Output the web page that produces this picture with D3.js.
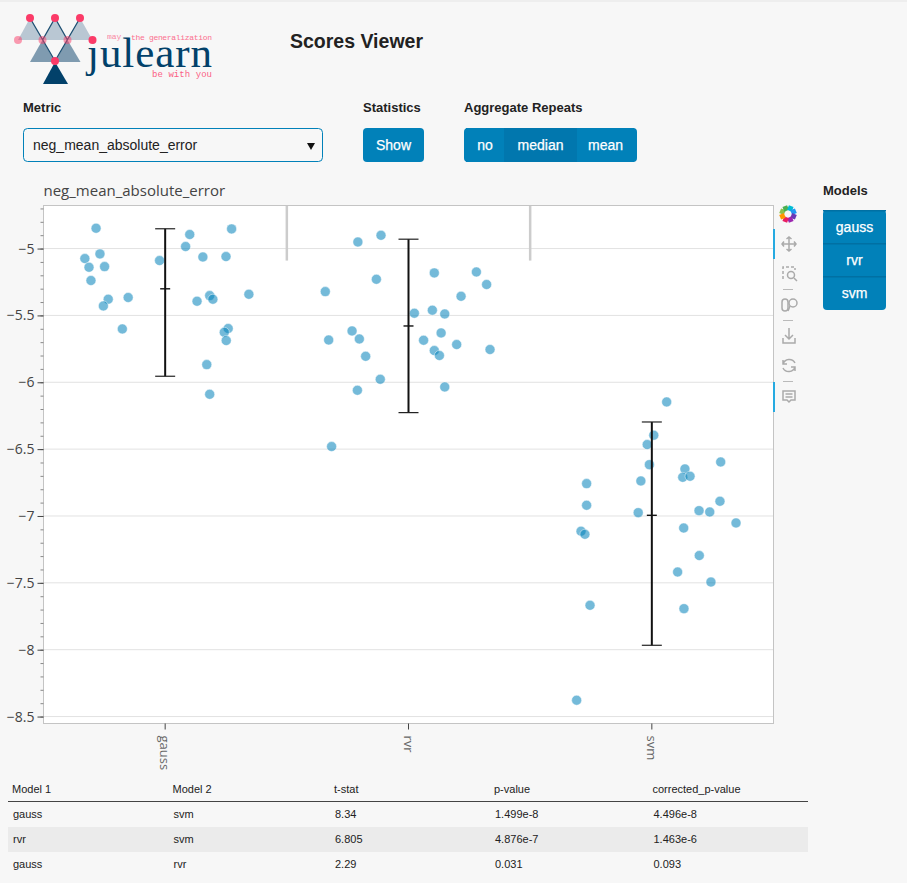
<html>
<head>
<meta charset="utf-8" />
<title>Scores Viewer</title>
<script src="https://cdn.jsdelivr.net/npm/d3@7/dist/d3.min.js"></script>
<style>
html, body { margin:0; padding:0; background:#f7f7f7; }
svg { display:block; }
.ui { font-family:"Liberation Sans", Arial, sans-serif; }
.tick text { font-family:"Open Sans", sans-serif; }
</style>
</head>
<body>
<svg id="page" width="907" height="883"></svg>
<script>
const models = ['gauss', 'rvr', 'svm'];
const yTicks = [-5, -5.5, -6, -6.5, -7, -7.5, -8, -8.5];

// offset from the category centre, as a share of the band
const gaussJitter = [-0.284,-0.268,-0.330,-0.313,-0.249,-0.305,-0.234,-0.254,-0.152,-0.176,-0.023,0.101,0.084,0.155,0.250,0.273,0.183,0.196,0.131,0.344,0.259,0.243,0.251,0.171,0.183];
const gaussScores = [-4.848,-5.040,-5.075,-5.140,-5.135,-5.239,-5.379,-5.429,-5.366,-5.601,-5.090,-4.895,-4.985,-5.063,-5.060,-4.853,-5.352,-5.379,-5.394,-5.342,-5.598,-5.626,-5.688,-5.868,-6.090];
const rvrJitter = [-0.208,-0.113,-0.132,-0.342,0.106,0.279,0.321,0.216,0.024,0.098,0.149,0.134,-0.232,-0.202,-0.328,0.062,0.198,0.106,0.127,0.335,-0.176,-0.116,-0.210,0.149,-0.316];
const rvrScores = [-4.951,-4.901,-5.230,-5.322,-5.182,-5.175,-5.269,-5.357,-5.484,-5.461,-5.489,-5.631,-5.616,-5.676,-5.684,-5.686,-5.718,-5.763,-5.800,-5.755,-5.806,-5.978,-6.060,-6.035,-6.481];
const svmJitter = [0.061,0.008,-0.019,-0.010,0.283,0.136,0.127,0.157,-0.045,-0.268,-0.268,0.280,0.194,0.238,-0.056,0.346,0.131,-0.291,-0.275,0.195,0.106,0.243,-0.254,0.132,-0.309];
const svmScores = [-6.147,-6.396,-6.466,-6.616,-6.596,-6.648,-6.711,-6.703,-6.738,-6.758,-6.920,-6.890,-6.960,-6.970,-6.975,-7.052,-7.090,-7.114,-7.137,-7.296,-7.419,-7.494,-7.668,-7.693,-8.378];

const errTop = [-4.852, -4.930, -6.297];
const errMean = [-5.301, -5.579, -6.995];
const errBottom = [-5.955, -6.227, -7.967];

const tableHead = ['Model 1', 'Model 2', 't-stat', 'p-value', 'corrected_p-value'];
const tableRows = [
	['gauss', 'svm', '8.34', '1.499e-8', '4.496e-8'],
	['rvr', 'svm', '6.805', '4.876e-7', '1.463e-6'],
	['gauss', 'rvr', '2.29', '0.031', '0.093']
];

const svg = d3.select('#page');
const blue = '#0181b9';

// top edge of the window
svg.append('rect').attr('width', 907).attr('height', 2).attr('fill', '#eeeeee');

// logo
const logo = svg.append('g');
const tri = (pts, fill) => logo.append('polygon').attr('points', pts).attr('fill', fill);
tri('18,40 30,18 42.5,40', '#b9c7d3');
tri('42.5,40 55,18 67.5,40', '#b9c7d3');
tri('67.5,40 80,18 92.5,40', '#b9c7d3');
tri('30,62 42.5,40 55,62', '#7f9bb0');
tri('55,62 67.5,40 80.5,62', '#7f9bb0');
tri('43,84 55,62 68,84', '#02416a');
logo.append('path').attr('d', 'M30,18 L55,61 L80,18 M42.5,40 L55,18 L67.5,40')
	.attr('fill', 'none').attr('stroke', '#1d4f72').attr('stroke-width', 1.3);
logo.append('text').text('julearn').attr('x', 87).attr('y', 66.5)
	.style('font-family', '"Liberation Serif", serif').style('font-size', '43px').attr('fill', '#02416a')
	.attr('textLength', 125);
[[30,18,1],[55,18,1],[80,18,1],[18,40,.5],[42.5,40,.5],[67.5,40,.5],[92.5,40,1],[55,61,1]].forEach(d => {
	logo.append('circle').attr('cx', d[0]).attr('cy', d[1]).attr('r', 4).attr('fill', '#fb3b68').attr('opacity', d[2]);
});
logo.append('text').text('may').attr('x', 107).attr('y', 39)
	.style('font-family', '"Liberation Mono", monospace').style('font-size', '8px').attr('fill', '#fb6f8f').attr('opacity', .8);
logo.append('text').text('the generalization').attr('x', 131).attr('y', 40)
	.style('font-family', '"Liberation Mono", monospace').style('font-size', '8px').attr('fill', '#fb6f8f').attr('textLength', 81);
logo.append('text').text('be with you').attr('x', 152).attr('y', 77)
	.style('font-family', '"Liberation Mono", monospace').style('font-size', '9px').attr('fill', '#fb5f85').attr('textLength', 60);

// header and widgets
const ui = svg.append('g').attr('class', 'ui');
const label = (t, px, py, size) => ui.append('text').text(t).attr('x', px).attr('y', py)
	.style('font-size', size + 'px').style('font-weight', 'bold').attr('fill', '#222');
label('Scores Viewer', 290, 48, 19.5);
label('Metric', 23, 112, 13);
label('Statistics', 363, 112, 13);
label('Aggregate Repeats', 464, 112, 13);
label('Models', 823, 195, 13);

const whiteText = (t, px, py) => ui.append('text').text(t).attr('x', px).attr('y', py).attr('text-anchor', 'middle')
	.style('font-size', '14px').attr('fill', '#fff').attr('stroke', '#fff').attr('stroke-width', 0.25);

ui.append('rect').attr('x', 23.5).attr('y', 128.5).attr('width', 299).attr('height', 33).attr('rx', 4)
	.attr('fill', '#f7f7f7').attr('stroke', blue);
ui.append('text').text('neg_mean_absolute_error').attr('x', 33).attr('y', 150)
	.style('font-size', '14px').attr('fill', '#222');
ui.append('path').attr('d', 'M307,143 L315,143 L311,150 Z').attr('fill', '#111');

const button = (t, px, py, w, h, fill) => {
	ui.append('rect').attr('x', px).attr('y', py).attr('width', w).attr('height', h).attr('fill', fill);
	whiteText(t, px + w / 2, py + h / 2 + 4.5);
};
ui.append('rect').attr('x', 363).attr('y', 128).attr('width', 61).attr('height', 34).attr('rx', 4).attr('fill', blue);
whiteText('Show', 393.5, 149.5);
ui.append('rect').attr('x', 464).attr('y', 128).attr('width', 173).attr('height', 34).attr('rx', 4).attr('fill', blue);
button('no', 466, 128, 38, 34, '#0181b9');
button('median', 504, 128, 73, 34, '#0177ae');
button('mean', 577, 128, 57, 34, '#0181b9');

ui.append('rect').attr('x', 823).attr('y', 210).attr('width', 63).attr('height', 100).attr('rx', 4).attr('fill', blue);
models.forEach((m, i) => {
	const btnTop = 210 + i * 33;
	ui.append('rect').attr('x', 823).attr('y', btnTop).attr('width', 63).attr('height', 1.5).attr('fill', '#0170a3');
	whiteText(m, 854.5, btnTop + 22);
});

// plot
const plotLeft = 43.5, plotRight = 773.5, plotTop = 205.5, plotBottom = 723.5;
const x = d3.scaleBand().domain(models).range([plotLeft, plotRight]);
const y = d3.scaleLinear().domain([-4.678, -8.552]).range([plotTop, plotBottom]);
const jitter = d3.scaleLinear().domain([0, 1]).range([0, x.bandwidth()]);
const centre = m => x(m) + x.bandwidth() / 2;

const plot = svg.append('g');
plot.append('rect').attr('x', plotLeft).attr('y', plotTop).attr('width', plotRight - plotLeft).attr('height', plotBottom - plotTop).attr('fill', '#fff');

plot.selectAll('line.grid').data(yTicks).enter().append('line').attr('class', 'grid')
	.attr('x1', plotLeft).attr('x2', plotRight).attr('y1', d => y(d)).attr('y2', d => y(d))
	.attr('stroke', '#e2e2e2');

plot.selectAll('line.sep').data(models.slice(1)).enter().append('line').attr('class', 'sep')
	.attr('x1', d => x(d)).attr('x2', d => x(d)).attr('y1', plotTop).attr('y2', y(-5.09))
	.attr('stroke', '#cccccc').attr('stroke-width', 2.5);

plot.append('rect').attr('x', plotLeft).attr('y', plotTop).attr('width', plotRight - plotLeft).attr('height', plotBottom - plotTop)
	.attr('fill', 'none').attr('stroke', '#c4c4c4');

const points = [];
[gaussJitter, rvrJitter, svmJitter].forEach((jit, i) => {
	const scores = [gaussScores, rvrScores, svmScores][i];
	jit.forEach((j, k) => points.push({ model: models[i], j: j, score: scores[k] }));
});
plot.selectAll('circle').data(points).enter().append('circle')
	.attr('cx', d => centre(d.model) + jitter(d.j))
	.attr('cy', d => y(d.score))
	.attr('r', 5)
	.attr('fill', '#0181b9').attr('fill-opacity', 0.55)
	.attr('stroke', '#fff').attr('stroke-opacity', 0.6).attr('stroke-width', 0.8);

// error bars
const bars = plot.selectAll('g.err').data(models).enter().append('g').attr('class', 'err');
bars.append('line').attr('x1', d => centre(d)).attr('x2', d => centre(d))
	.attr('y1', (d, i) => y(errTop[i])).attr('y2', (d, i) => y(errBottom[i]))
	.attr('stroke', '#111').attr('stroke-width', 2);
[errTop, errBottom].forEach(vals => {
	bars.append('line').attr('x1', d => centre(d) - 10).attr('x2', d => centre(d) + 10)
		.attr('y1', (d, i) => y(vals[i])).attr('y2', (d, i) => y(vals[i]))
		.attr('stroke', '#222').attr('stroke-width', 1.2);
});
bars.append('line').attr('x1', d => centre(d) - 5).attr('x2', d => centre(d) + 5)
	.attr('y1', (d, i) => y(errMean[i])).attr('y2', (d, i) => y(errMean[i]))
	.attr('stroke', '#111').attr('stroke-width', 1.4);

// axes
const yMinor = d3.axisLeft(y).ticks(38).tickFormat('').tickSize(3);
const yMinorG = svg.append('g').attr('transform', 'translate(' + plotLeft + ',0)').call(yMinor);
yMinorG.select('.domain').remove();
yMinorG.selectAll('line').attr('stroke', '#888');

const yAxis = d3.axisLeft(y).tickValues(yTicks).tickFormat(d => String(d).replace('-', '\u2212')).tickSize(6).tickPadding(3);
const yG = svg.append('g').attr('transform', 'translate(' + plotLeft + ',0)').call(yAxis);
yG.select('.domain').remove();
yG.selectAll('line').attr('stroke', '#444');
yG.selectAll('text').style('font-size', '14px').attr('fill', '#444');

const xAxis = d3.axisBottom(x).tickSize(6);
const xG = svg.append('g').attr('transform', 'translate(0,' + plotBottom + ')').call(xAxis);
xG.select('.domain').remove();
xG.selectAll('line').attr('stroke', '#444');
xG.selectAll('text').style('font-size', '13px').attr('fill', '#666')
	.attr('text-anchor', 'start').attr('dy', 0)
	.attr('transform', 'translate(-5,12) rotate(90)').attr('x', 0).attr('y', 0);

svg.append('text').text('neg_mean_absolute_error').attr('x', 43.5).attr('y', 196)
	.style('font-family', '"Open Sans", sans-serif').style('font-size', '15px').attr('fill', '#444');

// toolbar
const tools = svg.append('g').attr('fill', 'none').attr('stroke', '#aaaaaa').attr('stroke-width', 1.5);
const wheel = ['#8bc34a', '#4caf50', '#00bcd4', '#2196f3', '#673ab7', '#9c27b0', '#e91e63', '#ff9800'];
wheel.forEach((c, i) => {
	const a = Math.PI / 4 * i - Math.PI;
	svg.append('line').attr('x1', 788 + 6.5 * Math.cos(a)).attr('y1', 214 + 6.5 * Math.sin(a))
		.attr('x2', 788 + 6.5 * Math.cos(a + Math.PI / 4)).attr('y2', 214 + 6.5 * Math.sin(a + Math.PI / 4))
		.attr('stroke', c).attr('stroke-width', 5);
});
svg.append('rect').attr('x', 773).attr('y', 229).attr('width', 2).attr('height', 30).attr('fill', '#26aae1');
svg.append('rect').attr('x', 773).attr('y', 382).attr('width', 2).attr('height', 30).attr('fill', '#26aae1');
tools.append('path').attr('d', 'M789,237 V251 M782,244 H796 M786.5,239 L789,237 L791.5,239 M786.5,249 L789,251 L791.5,249 M784,241.5 L782,244 L784,246.5 M794,241.5 L796,244 L794,246.5');
tools.append('path').attr('d', 'M783,279 V267 H795 V270').attr('stroke-dasharray', '3 2');
tools.append('circle').attr('cx', 791).attr('cy', 275).attr('r', 3.5);
tools.append('path').attr('d', 'M794,278 L797,281');
tools.append('path').attr('d', 'M783,289.5 H793 M783,320.5 H793 M783,381.5 H793').attr('stroke-width', 0.8);
tools.append('rect').attr('x', 782).attr('y', 299).attr('width', 6).attr('height', 12).attr('rx', 3);
tools.append('circle').attr('cx', 793).attr('cy', 303).attr('r', 4);
tools.append('path').attr('d', 'M790,306 L788,311');
tools.append('path').attr('d', 'M789,328 V339 M785,335 L789,339 L793,335 M783,338 V343 H795 V338');
tools.append('path').attr('d', 'M795,363 A6.5,6.5 0 0 0 783,364 M783,368 A6.5,6.5 0 0 0 795,367 M783,360 V364 H787 M795,371 V367 H791');
tools.append('path').attr('d', 'M783,391 H795 V400 H791 L789,402 L787,400 H783 Z M785.5,394 H792.5 M785.5,397 H792.5');

// stats table
const colX = [13, 173.5, 335, 495, 653.5];
const table = svg.append('g').attr('class', 'ui').style('font-size', '11px').attr('fill', '#222');
table.append('rect').attr('x', 8).attr('y', 827).attr('width', 800).attr('height', 25).attr('fill', '#ebebeb');
table.append('line').attr('x1', 8).attr('x2', 808).attr('y1', 801.5).attr('y2', 801.5).attr('stroke', '#444');
tableHead.forEach((h, i) => {
	table.append('text').text(h).attr('x', colX[i] - 1).attr('y', 793);
});
tableRows.forEach((row, r) => {
	row.forEach((c, i) => {
		table.append('text').text(c).attr('x', colX[i]).attr('y', 818 + r * 25);
	});
});
</script>
</body>
</html>
